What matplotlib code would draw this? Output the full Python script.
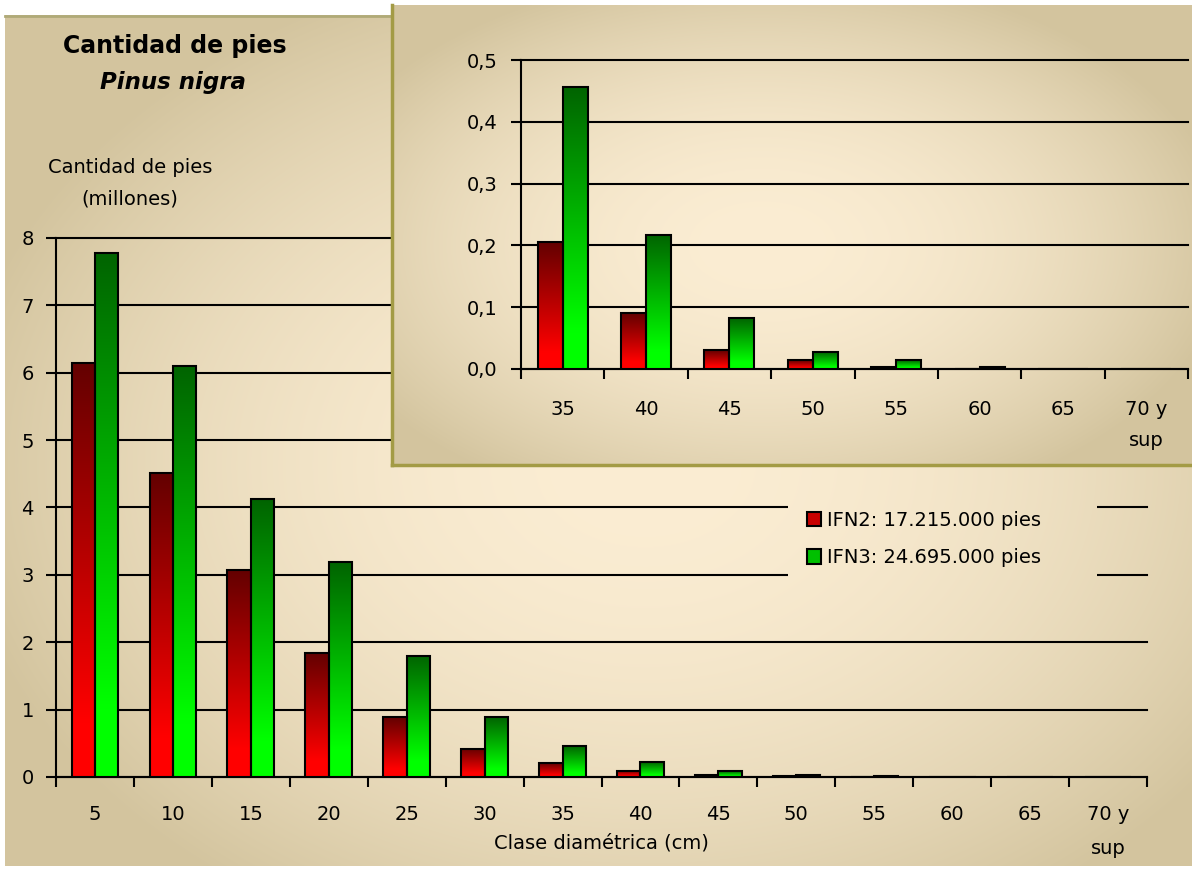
import numpy as np
import matplotlib
matplotlib.use("Agg")
import matplotlib.pyplot as plt
from matplotlib.patches import Patch

# data (millones de pies)
clases = ['5', '10', '15', '20', '25', '30', '35', '40', '45', '50', '55', '60', '65', '70 y\nsup']
ifn2 = [6.15, 4.51, 3.07, 1.84, 0.89, 0.42, 0.205, 0.09, 0.03, 0.014, 0.004, 0.0, 0.0, 0.0]
ifn3 = [7.78, 6.10, 4.12, 3.19, 1.80, 0.89, 0.456, 0.217, 0.082, 0.027, 0.014, 0.004, 0.0, 0.0]
inset_from = 6  # detalle desde la clase 35
yticks_main = [0, 1, 2, 3, 4, 5, 6, 7, 8]
yticks_inset = [0.0, 0.1, 0.2, 0.3, 0.4, 0.5]
yticklabels_inset = ['0,0', '0,1', '0,2', '0,3', '0,4', '0,5']
leyenda = ['IFN2: 17.215.000 pies', 'IFN3: 24.695.000 pies']

W, H = 1192, 869
FS = 14

plt.rcParams['font.family'] = ['DejaVu Sans']


def radial(w, h, cx, cy, rx, ry, c0, c1, p=2.0):
    yy, xx = np.mgrid[0:h, 0:w]
    r = np.sqrt(((xx - cx) / rx) ** 2 + ((yy - cy) / ry) ** 2)
    t = np.clip(r, 0, 1)[..., None] ** p
    c0 = np.array(matplotlib.colors.to_rgb(c0))
    c1 = np.array(matplotlib.colors.to_rgb(c1))
    return c0 + (c1 - c0) * t


def fx(px):
    return px / W


def fy(py):
    return 1 - py / H


centre = '#fbedd3'
borde = '#d3c49e'

fig = plt.figure(figsize=(W / 100, H / 100), dpi=100)
fig.patch.set_facecolor('white')

# fondo del panel principal
bg_main = radial(1187, 851, 640, 450, 700, 520, centre, borde)
bg = fig.add_axes([0, 0, 1, 1], zorder=0)
bg.imshow(bg_main, extent=[5, 1192, 866, 15], aspect='auto', interpolation='bilinear')
bg.plot([5, 392], [15.5, 15.5], color='#b0aa78', lw=2)
bg.set_xlim(0, W)
bg.set_ylim(H, 0)
bg.axis('off')


def grad_bars(ax, xs, vals, width, dark, light):
    bars = ax.bar(xs, vals, width, color='none', edgecolor='black', linewidth=1.5, zorder=4)
    g = np.linspace(0, 1, 128)[:, None, None]
    d = np.array(matplotlib.colors.to_rgb(dark))
    l = np.array(matplotlib.colors.to_rgb(light))
    img = d + (l - d) * np.clip(g * 1.15, 0, 1)
    for b, v in zip(bars, vals):
        if v <= 0:
            continue
        x0 = b.get_x()
        im = ax.imshow(img, extent=[x0, x0 + b.get_width(), 0, v], aspect='auto',
                       origin='upper', zorder=3, interpolation='bilinear')
        im.set_clip_path(b)
    return bars


def style_axis(ax, n, ymax, yt, ytl, xpad, ypad):
    ax.set_facecolor('none')
    for s in ['top', 'right']:
        ax.spines[s].set_visible(False)
    for s in ['left', 'bottom']:
        ax.spines[s].set_linewidth(1.5)
    ax.set_xlim(-0.5, n - 0.5)
    ax.set_ylim(0, ymax)
    ax.set_yticks(yt)
    ax.set_yticklabels(ytl, fontsize=FS)
    ax.yaxis.grid(True, color='black', linewidth=1.5)
    for gl in ax.get_ygridlines():
        gl.set_clip_on(False)
    ax.set_axisbelow(True)
    ax.set_xticks(np.arange(-0.5, n, 1.0), minor=True)
    ax.tick_params(axis='x', which='major', length=0, pad=xpad, labelsize=FS)
    ax.tick_params(axis='x', which='minor', length=7, width=1.5, direction='out')
    ax.tick_params(axis='y', length=7, width=1.5, direction='out', pad=ypad)


w = 0.3

# grafico principal
ax = fig.add_axes([fx(56), fy(777), fx(1147) - fx(56), fy(238) - fy(777)], zorder=1)
xm = np.arange(len(clases))
grad_bars(ax, xm - w / 2, ifn2, w, '#640000', '#ff0000')
grad_bars(ax, xm + w / 2, ifn3, w, '#006400', '#00ff00')
style_axis(ax, len(clases), 8, yticks_main, [str(v) for v in yticks_main], 20, 9)
ax.set_xticks(xm)
ax.set_xticklabels(clases, linespacing=2.0)

fig.text(fx(175), fy(46), 'Cantidad de pies', ha='center', va='center',
         fontsize=17, fontweight='bold')
fig.text(fx(173), fy(83), 'Pinus nigra', ha='center', va='center',
         fontsize=16.5, fontweight='bold', style='italic')
fig.text(fx(130), fy(183), 'Cantidad de pies\n(millones)', ha='center', va='center',
         fontsize=FS, linespacing=1.85)
fig.text(fx(601), fy(843), 'Clase diamétrica (cm)', ha='center', va='center', fontsize=FS)

# tapa de la leyenda (mismo fondo, oculta las lineas)
cover = fig.add_axes([fx(788), fy(594), fx(1097) - fx(788), fy(490) - fy(594)], zorder=2)
cover.imshow(bg_main, extent=[5, 1192, 866, 15], aspect='auto', interpolation='bilinear')
cover.set_xlim(788, 1097)
cover.set_ylim(594, 490)
cover.axis('off')

handles = [Patch(facecolor='#c80000', edgecolor='black', linewidth=1.5),
           Patch(facecolor='#00c000', edgecolor='black', linewidth=1.5)]
leg = fig.legend(handles, leyenda, loc='upper left', bbox_to_anchor=(fx(797), fy(501)),
                 frameon=False, fontsize=14, handlelength=0.75, handleheight=0.75,
                 handletextpad=0.3, labelspacing=0.95, borderpad=0)
leg.set_zorder(6)

# panel del detalle
panel = fig.add_axes([fx(392), fy(465), 1 - fx(392), fy(5) - fy(465)], zorder=3)
bg_inset = radial(800, 460, 370, 240, 470, 280, centre, borde)
panel.imshow(bg_inset, extent=[0, 800, 460, 0], aspect='auto', interpolation='bilinear')
panel.set_xlim(0, 800)
panel.set_ylim(460, 0)
panel.set_xticks([])
panel.set_yticks([])
for s in ['top', 'right']:
    panel.spines[s].set_visible(False)
for s in ['left', 'bottom']:
    panel.spines[s].set_color('#a39b45')
    panel.spines[s].set_linewidth(2.5)

axi = fig.add_axes([fx(521), fy(369), fx(1188) - fx(521), fy(60) - fy(369)], zorder=4)
cl_i = clases[inset_from:]
xi = np.arange(len(cl_i))
grad_bars(axi, xi - w / 2, ifn2[inset_from:], w, '#640000', '#ff0000')
grad_bars(axi, xi + w / 2, ifn3[inset_from:], w, '#006400', '#00ff00')
style_axis(axi, len(cl_i), 0.5, yticks_inset, yticklabels_inset, 22, 10)
axi.set_xticks(xi)
axi.set_xticklabels(cl_i, linespacing=1.85)

fig.savefig('out.png', dpi=100)
